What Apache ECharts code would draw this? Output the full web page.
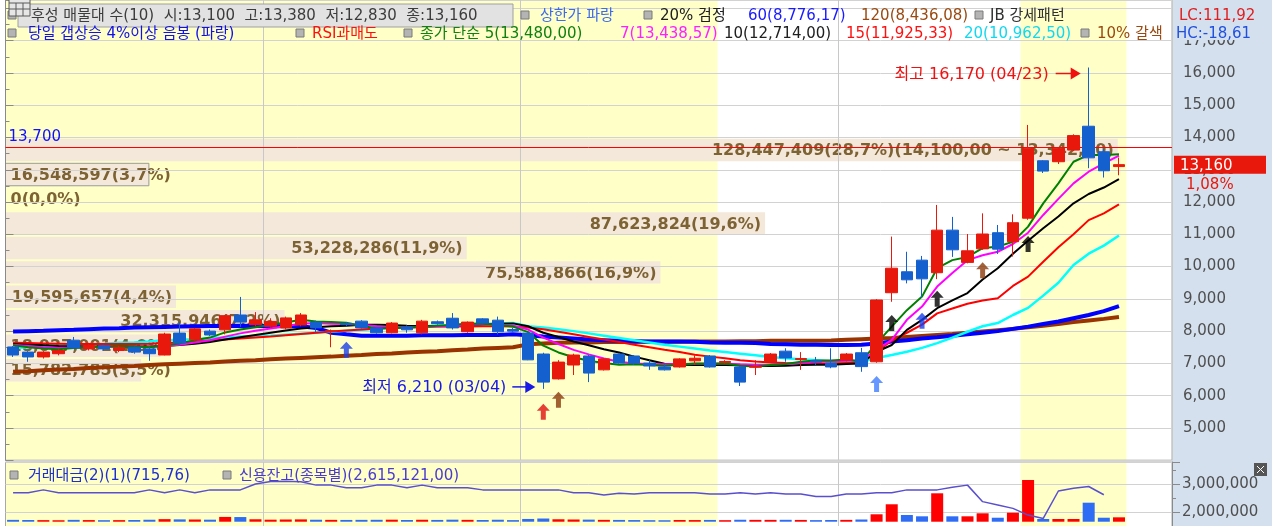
<!DOCTYPE html>
<html>
<head>
<meta charset="utf-8">
<script src="https://cdn.jsdelivr.net/npm/echarts@6/dist/echarts.min.js"></script>
<style>
html, body { margin: 0; padding: 0; background: #fff; }
#main { width: 1272px; height: 526px; }
</style>
</head>
<body>
<div id="main"></div>
<script>
// daily candles
var opens = [
  7510, 7350, 7200, 7300, 7720, 7450, 7550, 7400, 7500, 7450,
  7260, 7940, 7730, 8000, 8040, 8500, 8200, 8150, 8100, 8190,
  8280, 7990, 8240, 8310, 8100, 7950, 8130, 7950, 8290, 8400,
  7980, 8380, 8340, 8050, 7940, 7290, 6520, 6950, 7230, 6800,
  7290, 7230, 7010, 6890, 6890, 7080, 7230, 7030, 6890, 6880,
  7040, 7380, 7120, 7080, 7010, 7090, 7330, 7050, 9190, 9840,
  10200, 9810, 11130, 10130, 10550, 11050, 10770, 11500, 13280, 13250,
  13610, 14350, 13560, 13100
];
var closes = [
  7260, 7200, 7350, 7400, 7480, 7550, 7450, 7500, 7350, 7300,
  7910, 7630, 8070, 7880, 8480, 8280, 8350, 8300, 8410, 8500,
  8100, 8010, 8200, 8100, 7950, 8250, 8040, 8310, 8230, 8100,
  8280, 8250, 7980, 8000, 7110, 6420, 7040, 7260, 6700, 7140,
  7010, 7010, 6920, 6800, 7140, 7160, 6890, 7060, 6420, 6900,
  7290, 7170, 7150, 7040, 6890, 7290, 6900, 8965, 9950, 9590,
  9620, 11130, 10520, 10490, 11010, 10540, 11360, 13670, 12960, 13670,
  14060, 13370, 12970, 13160
];
var lows = [
  7200, 7050, 7150, 7250, 7450, 7400, 7400, 7350, 7300, 7080,
  7250, 7550, 7700, 7850, 7900, 8130, 8150, 8100, 8050, 8150,
  7960, 7500, 8150, 8080, 7920, 7930, 7950, 7900, 8200, 8050,
  7950, 8230, 7900, 7960, 7100, 6210, 6500, 6640, 6420, 6780,
  6990, 6950, 6800, 6780, 6870, 6950, 6870, 6990, 6300, 6640,
  7020, 7050, 6800, 6950, 6850, 7060, 6740, 7020, 8910, 9480,
  9030, 9610, 10300, 10100, 10520, 10390, 10310, 11450, 12900, 13180,
  13580, 13050, 12760, 12830
];
var highs = [
  7540, 7380, 7380, 7450, 7820, 7600, 7580, 7550, 7520, 7500,
  7950, 8290, 8100, 8050, 8500, 9060, 8590, 8400, 8450, 8560,
  8320, 8050, 8280, 8340, 8130, 8280, 8180, 8350, 8330, 8560,
  8300, 8400, 8450, 8100, 7970, 7330, 7100, 7300, 7260, 7160,
  7310, 7260, 7100, 6990, 7160, 7250, 7260, 7100, 6920, 7100,
  7320, 7470, 7350, 7200, 7470, 7320, 7480, 8990, 10930, 10460,
  10330, 11910, 11540, 11010, 11650, 11290, 11620, 14390, 13300, 13700,
  14100, 16170, 13650, 13380
];

// moving averages as drawn
var ma5 = [
  7560, 7500, 7460, 7440, 7480, 7500, 7520, 7540, 7530, 7500,
  7560, 7620, 7720, 7800, 7960, 8050, 8120, 8200, 8270, 8350,
  8300, 8280, 8260, 8160, 8090, 8100, 8110, 8130, 8170, 8190,
  8240, 8230, 8190, 8140, 7970, 7550, 7340, 7190, 7080, 7010,
  6960, 6970, 6950, 6930, 6960, 7000, 6990, 7000, 6930, 6900,
  6950, 6980, 7050, 7090, 7090, 7120, 7060, 7620, 8140, 8650,
  9070, 9950, 10200, 10300, 10570, 10620, 10770, 11240, 11960, 12580,
  13250, 13460, 13460, 13480
];
var ma7 = [
  7580, 7540, 7500, 7480, 7490, 7500, 7510, 7520, 7520, 7510,
  7540, 7580, 7650, 7720, 7830, 7930, 8010, 8080, 8160, 8230,
  8250, 8230, 8220, 8200, 8150, 8120, 8110, 8130, 8140, 8150,
  8190, 8220, 8200, 8170, 8050, 7800, 7600, 7420, 7280, 7150,
  7050, 7000, 6980, 6970, 6980, 6990, 7000, 7000, 6970, 6950,
  6960, 6980, 7010, 7040, 7070, 7080, 7090, 7420, 7730, 8350,
  8760, 9380, 9800, 10200, 10350, 10460, 10700, 11050, 11600, 12100,
  12580, 12940, 13200, 13438.57
];
var ma10 = [
  7600, 7580, 7560, 7540, 7530, 7520, 7520, 7520, 7520, 7520,
  7540, 7570, 7610, 7660, 7740, 7810, 7880, 7950, 8020, 8080,
  8120, 8150, 8170, 8200, 8200, 8190, 8170, 8160, 8160, 8170,
  8190, 8210, 8230, 8240, 8150, 7950, 7820, 7680, 7560, 7440,
  7340, 7210, 7100, 6990, 6960, 6950, 6950, 6950, 6940, 6920,
  6920, 6930, 6950, 6960, 6960, 6980, 7000, 7360, 7570, 8040,
  8350, 8710, 8950, 9180, 9600, 9950, 10400, 10800, 11190, 11550,
  11960, 12250, 12450, 12714
];
var ma15 = [
  7640, 7630, 7620, 7610, 7600, 7600, 7600, 7600, 7600, 7610,
  7630, 7650, 7680, 7710, 7740, 7770, 7800, 7830, 7870, 7910,
  7950, 7990, 8020, 8050, 8080, 8100, 8120, 8130, 8140, 8140,
  8140, 8150, 8150, 8140, 8110, 8060, 7980, 7900, 7820, 7740,
  7660, 7580, 7500, 7420, 7350, 7270, 7210, 7160, 7100, 7060,
  7030, 7010, 7000, 7000, 7000, 7010, 7020, 7365, 7700, 7950,
  8200, 8550, 8700, 8850, 8950, 9020, 9400, 9690, 10150, 10600,
  11000, 11440, 11650, 11925.33
];
var ma20 = [
  7480, 7500, 7530, 7550, 7560, 7590, 7610, 7640, 7650, 7680,
  7720, 7730, 7750, 7790, 7800, 7830, 7850, 7860, 7890, 7920,
  7950, 7980, 8010, 8040, 8070, 8100, 8130, 8150, 8170, 8190,
  8200, 8220, 8240, 8250, 8150, 8110, 8060, 8000, 7930, 7860,
  7790, 7720, 7650, 7580, 7520, 7460, 7400, 7350, 7300, 7250,
  7200, 7160, 7130, 7100, 7070, 7050, 7040, 7170, 7260, 7360,
  7480, 7630, 7800, 7980, 8150, 8250, 8500, 8720, 9100, 9500,
  10050, 10400, 10650, 10962.5
];
var ma60 = [
  7990, 8000, 8010, 8030, 8040, 8060, 8080, 8090, 8110, 8120,
  8130, 8140, 8150, 8160, 8160, 8170, 8160, 8160, 8150, 8150,
  8100, 7950, 7900, 7860, 7860, 7860, 7860, 7870, 7870, 7870,
  7880, 7880, 7880, 7900, 7870, 7830, 7800, 7770, 7740, 7720,
  7700, 7690, 7680, 7680, 7680, 7670, 7650, 7640, 7640, 7630,
  7600, 7590, 7580, 7580, 7570, 7570, 7580, 7620, 7680, 7720,
  7770, 7810, 7860, 7900, 7950, 8000, 8070, 8140, 8220, 8300,
  8400, 8500, 8620, 8776.17
];
var ma120 = [
  6740, 6760, 6790, 6810, 6830, 6860, 6880, 6900, 6920, 6950,
  6970, 6990, 7010, 7030, 7060, 7080, 7100, 7130, 7150, 7170,
  7190, 7210, 7240, 7260, 7290, 7310, 7340, 7360, 7380, 7410,
  7430, 7460, 7480, 7500, 7590, 7620, 7640, 7650, 7650, 7660,
  7660, 7660, 7670, 7670, 7670, 7680, 7680, 7680, 7690, 7690,
  7700, 7700, 7700, 7700, 7710, 7730, 7750, 7770, 7790, 7820,
  7850, 7880, 7910, 7950, 7990, 8030, 8070, 8120, 8170, 8220,
  8280, 8330, 8380, 8436.08
];

// lower panel: trade value bars and credit balance line
var tradeValue = [
  300, 280, 260, 240, 300, 270, 250, 260, 280, 320,
  420, 380, 360, 330, 780, 760, 400, 330, 360, 380,
  320, 300, 290, 300, 310, 330, 280, 320, 290, 330,
  300, 280, 320, 260, 450, 520, 400, 360, 340, 300,
  290, 270, 250, 240, 280, 270, 290, 250, 320, 300,
  300, 310, 290, 260, 280, 300, 360, 1210, 2840, 1090,
  880, 4630, 880, 880, 1370, 650, 1470, 6800, 440, 440,
  440, 3100, 650, 716
];
var creditBalance = [
  2690000, 2690000, 2790000, 2690000, 2690000, 2690000, 2690000, 2690000, 2690000, 2790000,
  2690000, 2790000, 2690000, 2790000, 2790000, 2790000, 3000000, 3090000, 3100000, 3080000,
  2960000, 2960000, 2870000, 2870000, 2960000, 2960000, 2870000, 2960000, 2870000, 2870000,
  2870000, 2790000, 2790000, 2790000, 2790000, 2790000, 2790000, 2690000, 2690000, 2610000,
  2670000, 2640000, 2690000, 2690000, 2690000, 2690000, 2640000, 2640000, 2690000, 2640000,
  2690000, 2640000, 2640000, 2550000, 2550000, 2640000, 2640000, 2690000, 2690000, 2790000,
  2790000, 2790000, 2880000, 2960000, 2370000, 2250000, 2130000, 1890000, 1770000, 2750000,
  2850000, 2910000, 2615121
];

// price-volume profile (매물대)
var bandVolumes = [128447409, 16548597, 0, 87623824, 53228286, 75588866, 19595657, 32315946, 18027001, 15782785];
var bandShares = [28.7, 3.7, 0.0, 19.6, 11.9, 16.9, 4.4, 7.2, 4.0, 3.5];
var bandTop = 13990, bandStep = 758;

// signal arrows
var signalIdx = [22, 35, 36, 57, 58, 60, 61, 64, 67];
var signalPrice = [7420, 5500, 5870, 6360, 8250, 8320, 9000, 9890, 10700];
var signalKind = ['blue', 'red', 'brown', 'sky', 'black', 'blue', 'black', 'brown', 'black'];

var shadeRanges = [[0, 46], [67, 73]];
var monthLines = [17, 34, 55];
var refLine = 13700;
var priceTicks = [5000, 6000, 7000, 8000, 9000, 10000, 11000, 12000, 13000, 14000, 15000, 16000, 17000];

var FONT = '"DejaVu Sans", "Noto Sans CJK KR", sans-serif';
var N = opens.length;
var slots = [];
for (var i = 0; i < N + 3; i++) slots.push(String(i));

function fmt(v) { return Math.round(v).toLocaleString('en-US'); }

var chart = echarts.init(document.getElementById('main'));

var measure = document.createElement('canvas').getContext('2d');
measure.font = 'bold 16px ' + FONT;
var lastClose = closes[N - 1];
var bandLabels = bandVolumes.map(function (v, k) {
  var s = fmt(v) + '(' + bandShares[k].toFixed(1).replace('.', ',') + '%)';
  if (k === 0) s += '(14,100,00 ~ 13,342,00)';
  return s;
});

function shadeItem(params, api) {
  var a = api.coord([api.value(0), 0]);
  var b = api.coord([api.value(1), 0]);
  var bw = api.size([1, 0])[0];
  var cs = params.coordSys;
  return {
    type: 'rect',
    shape: { x: a[0] - bw / 2, y: cs.y, width: b[0] - a[0] + bw, height: cs.height },
    style: { fill: '#ffffc8' }
  };
}

function bandItem(params, api) {
  var k = api.value(0);
  var p0 = api.coord([0, api.value(1)]);
  var p1 = api.coord([api.value(3), api.value(2)]);
  var y0 = p0[1] + 1, h = p1[1] - p0[1] - 2;
  var w = p1[0] - p0[0];
  var label = bandLabels[k];
  var tw = measure.measureText(label).width;
  var right = tw + 8 < w;
  var children = [];
  var hi = api.value(1), lo = api.value(2);
  var current = lastClose <= hi && lastClose > lo;
  if (w > 0) {
    children.push({
      type: 'rect',
      shape: { x: p0[0], y: y0, width: w, height: h },
      style: { fill: '#f4e8da', stroke: current ? '#9a9a9a' : null, lineWidth: 1 }
    });
  }
  children.push({
    type: 'text',
    style: {
      text: label,
      x: right ? p1[0] - 4 : p0[0] + 5,
      y: y0 + h / 2 + 1,
      align: right ? 'right' : 'left',
      verticalAlign: 'middle',
      fill: '#7d6234',
      font: 'bold 16px ' + FONT
    }
  });
  return { type: 'group', children: children };
}

var maDefs = [
  { data: ma120, color: '#993300', width: 4 },
  { data: ma60, color: '#0000ff', width: 4 },
  { data: ma20, color: '#00ffff', width: 2.5 },
  { data: ma15, color: '#ff0000', width: 2 },
  { data: ma10, color: '#000000', width: 2 },
  { data: ma7, color: '#ff00ff', width: 2 },
  { data: ma5, color: '#008000', width: 2 }
];
var signalColors = { blue: '#1a3fe8', red: '#e01010', brown: '#8b3a0a', sky: '#3f7dff', black: '#000000' };
var arrowPath = 'path://M6.5,0 L13,7 L9,7 L9,16 L4,16 L4,7 L0,7 Z';

var series = [
  { type: 'custom', xAxisIndex: 0, yAxisIndex: 0, z: -3, silent: true, renderItem: shadeItem, data: shadeRanges },
  {
    type: 'custom', xAxisIndex: 1, yAxisIndex: 0, z: -2, silent: true, renderItem: bandItem,
    data: bandShares.map(function (s, k) { return [k, bandTop - k * bandStep, bandTop - (k + 1) * bandStep, s]; })
  }
];
maDefs.forEach(function (m) {
  series.push({
    type: 'line', xAxisIndex: 0, yAxisIndex: 0, data: m.data, showSymbol: false, silent: true, z: 3,
    lineStyle: { color: m.color, width: m.width }
  });
});
series.push({
  type: 'candlestick', xAxisIndex: 0, yAxisIndex: 0, barWidth: 12, z: 5,
  data: opens.map(function (o, i) { return [o, closes[i], lows[i], highs[i]]; }),
  itemStyle: { color: '#e8180c', color0: '#1560cf', borderColor: '#e8180c', borderColor0: '#1560cf', borderWidth: 1 },
  markLine: {
    silent: true, symbol: 'none', animation: false,
    data: [{ yAxis: refLine }],
    lineStyle: { color: '#ff0000', width: 1, type: 'solid', opacity: 1 },
    label: { position: 'insideStartTop', formatter: fmt(refLine), color: '#1010ff', fontSize: 15, fontFamily: FONT, distance: 3 }
  }
});
series.push({
  type: 'scatter', xAxisIndex: 0, yAxisIndex: 0, symbol: arrowPath, symbolSize: [13, 16], z: 6, silent: true,
  data: signalIdx.map(function (j, k) {
    return { value: [j, signalPrice[k]], itemStyle: { color: signalColors[signalKind[k]] } };
  })
});
series.push({ type: 'custom', xAxisIndex: 2, yAxisIndex: 1, z: -3, silent: true, renderItem: shadeItem, data: shadeRanges });
series.push({
  type: 'bar', xAxisIndex: 2, yAxisIndex: 2, barWidth: 12, silent: true,
  data: tradeValue.map(function (v, i) {
    return { value: v, itemStyle: { color: closes[i] >= opens[i] ? '#ff0000' : '#2f6cf5' } };
  })
});
series.push({
  type: 'line', xAxisIndex: 2, yAxisIndex: 1, data: creditBalance, showSymbol: false, silent: true, z: 4,
  lineStyle: { color: '#5a4fcf', width: 1.5 }
});

var catAxis = function (grid) {
  return {
    type: 'category', gridIndex: grid, data: slots, boundaryGap: true,
    axisLine: { show: false }, axisTick: { show: false }, axisLabel: { show: false },
    splitLine: {
      show: true,
      interval: function (idx) { return monthLines.indexOf(idx) >= 0; },
      lineStyle: { color: '#c8c8c8', width: 1 }
    }
  };
};

chart.setOption({
  animation: false,
  backgroundColor: '#ffffff',
  grid: [
    { left: 5.5, right: 100, top: 0, bottom: 65.8, show: true, borderColor: '#a8a8a8', borderWidth: 1, containLabel: false, outerBoundsMode: 'none' },
    { left: 5.5, right: 100, top: 462, height: 78, show: true, borderColor: '#a8a8a8', borderWidth: 1, containLabel: false, outerBoundsMode: 'none' }
  ],
  xAxis: [
    catAxis(0),
    { type: 'value', gridIndex: 0, min: 0, max: 30.1, show: false },
    catAxis(1)
  ],
  yAxis: [
    {
      type: 'value', gridIndex: 0, position: 'right', min: 4000, max: 18262, interval: 1000,
      axisLine: { show: true, lineStyle: { color: '#8a8a8a' } },
      axisTick: { show: true, length: 8, lineStyle: { color: '#8a8a8a' } },
      minorTick: { show: true, splitNumber: 2, length: 4, lineStyle: { color: '#8a8a8a' } },
      axisLabel: {
        margin: 11, color: '#4f4f4f', fontSize: 15, fontFamily: FONT,
        formatter: function (v) { return priceTicks.indexOf(v) >= 0 ? fmt(v) : ''; }
      },
      splitLine: { show: true, lineStyle: { color: '#d2d2d2' } }
    },
    {
      type: 'value', gridIndex: 1, position: 'right', min: 1000000, max: 3785714, interval: 1000000,
      axisLine: { show: true, lineStyle: { color: '#8a8a8a' } },
      axisTick: { show: true, length: 8, lineStyle: { color: '#8a8a8a' } },
      minorTick: { show: true, splitNumber: 2, length: 4, lineStyle: { color: '#8a8a8a' } },
      axisLabel: {
        margin: 10, color: '#4f4f4f', fontSize: 15, fontFamily: FONT,
        formatter: function (v) { return (v === 2000000 || v === 3000000) ? fmt(v) : ''; }
      },
      splitLine: { show: true, lineStyle: { color: '#d2d2d2' } }
    },
    { type: 'value', gridIndex: 1, min: -2980, max: 9731, show: false }
  ],
  series: series
});

// decorations positioned through the chart's own scales
function px(j, v) { return chart.convertToPixel({ xAxisIndex: 0, yAxisIndex: 0 }, [j, v]); }
function txt(x, y, s, color, size, align) {
  return { type: 'text', z: 100, x: x, y: y, style: { text: s, fill: color, font: (size || 15) + 'px ' + FONT, align: align || 'left', verticalAlign: 'middle' } };
}
function sq(x, y) {
  return { type: 'rect', z: 100, shape: { x: x, y: y - 4, width: 8, height: 8 }, style: { fill: '#b4b4b4', stroke: '#7a7a7a', lineWidth: 1 } };
}
function arrowRight(tipX, y, len, color) {
  return [
    { type: 'line', z: 100, shape: { x1: tipX - len, y1: y, x2: tipX - 8, y2: y }, style: { stroke: color, lineWidth: 1.5 } },
    { type: 'polygon', z: 100, shape: { points: [[tipX, y], [tipX - 10, y - 6], [tipX - 10, y + 6]] }, style: { fill: color } }
  ];
}

var g = [];
g.push({ type: 'rect', z: -10, shape: { x: 1172, y: 0, width: 100, height: 526 }, style: { fill: '#d4e0ee' } });
// top-left icon
g.push({ type: 'rect', z: 101, shape: { x: 9, y: -1, width: 21, height: 17 }, style: { fill: '#e6e6e6', stroke: '#5a5a5a', lineWidth: 1 } });
g.push({ type: 'line', z: 101, shape: { x1: 16, y1: 3, x2: 16, y2: 16 }, style: { stroke: '#5a5a5a' } });
g.push({ type: 'line', z: 101, shape: { x1: 23, y1: 3, x2: 23, y2: 16 }, style: { stroke: '#5a5a5a' } });
g.push({ type: 'line', z: 101, shape: { x1: 9, y1: 9, x2: 30, y2: 9 }, style: { stroke: '#5a5a5a' } });
g.push({ type: 'line', z: 101, shape: { x1: 9, y1: 3, x2: 30, y2: 3 }, style: { stroke: '#5a5a5a' } });

// legend row 1
g.push(sq(8, 15));
g.push({ type: 'rect', z: 99, shape: { x: 18, y: 4, width: 495, height: 23 }, style: { fill: '#e2e2e2', stroke: '#a0a0a0', lineWidth: 1 } });
g.push(txt(31, 16, '후성 매물대 수(10)  시:13,100  고:13,380  저:12,830  종:13,160', '#3c3c3c'));
g.push(sq(521, 15)); g.push(txt(540, 16, '상한가 파랑', '#3d6bef'));
g.push(sq(644, 15)); g.push(txt(660, 16, '20% 검정', '#202020'));
g.push(txt(748, 16, '60(8,776,17)', '#1a1aff'));
g.push(txt(861, 16, '120(8,436,08)', '#9a4a10'));
g.push(sq(975, 15)); g.push(txt(990, 16, 'JB 강세패턴', '#303030'));
g.push(txt(1179, 16, 'LC:111,92', '#e02020'));
// legend row 2
g.push(sq(8, 33)); g.push(txt(28, 34, '당일 갭상승 4%이상 음봉 (파랑)', '#1010f0'));
g.push(sq(296, 33)); g.push(txt(312, 34, 'RSI과매도', '#ff1010'));
g.push(sq(404, 33)); g.push(txt(420, 34, '종가 단순 5(13,480,00)', '#108010'));
g.push(txt(620, 34, '7(13,438,57)', '#ff20ff'));
g.push(txt(724, 34, '10(12,714,00)', '#202020'));
g.push(txt(846, 34, '15(11,925,33)', '#ff1010'));
g.push(txt(964, 34, '20(10,962,50)', '#10d8f0'));
g.push(sq(1081, 33)); g.push(txt(1097, 34, '10% 갈색', '#9a4a10'));
g.push({ type: 'rect', z: 99, shape: { x: 1174, y: 24, width: 97, height: 16 }, style: { fill: '#d4e0ee' } });
g.push(txt(1176, 34, 'HC:-18,61', '#2050e0'));

// lower panel legend and icon
g.push(sq(10, 475)); g.push(txt(28, 476, '거래대금(2)(1)(715,76)', '#1d2fd0'));
g.push(sq(223, 475)); g.push(txt(239, 476, '신용잔고(종목별)(2,615,121,00)', '#4a3ccf'));
g.push({ type: 'rect', z: 100, shape: { x: 1254, y: 463, width: 13, height: 13 }, style: { fill: '#555' } });
g.push({ type: 'line', z: 101, shape: { x1: 1257, y1: 466, x2: 1264, y2: 473 }, style: { stroke: '#fff' } });
g.push({ type: 'line', z: 101, shape: { x1: 1264, y1: 466, x2: 1257, y2: 473 }, style: { stroke: '#fff' } });

// current price tag
var pc = px(N - 1, lastClose);
g.push({ type: 'rect', z: 100, shape: { x: 1174, y: pc[1] - 9, width: 92, height: 18 }, style: { fill: '#e8180c' } });
g.push(txt(1180, pc[1] + 1, fmt(lastClose), '#ffffff'));
g.push(txt(1186, pc[1] + 20, '1,08%', '#e8180c'));

// high / low notes
var hiIdx = highs.indexOf(Math.max.apply(null, highs));
var loIdx = lows.indexOf(Math.min.apply(null, lows));
var ph = px(hiIdx, highs[hiIdx]);
g.push(txt(ph[0] - 40, ph[1] + 7, '최고 ' + fmt(highs[hiIdx]) + ' (04/23)', '#f01010', 16, 'right'));
g = g.concat(arrowRight(ph[0] - 8, ph[1] + 6, 25, '#f01010'));
var pl = px(loIdx, lows[loIdx]);
g.push(txt(pl[0] - 37, pl[1] - 1, '최저 ' + fmt(lows[loIdx]) + ' (03/04)', '#1a1ae8', 16, 'right'));
g = g.concat(arrowRight(pl[0] - 8, pl[1] - 2, 23, '#1a1ae8'));

chart.setOption({ graphic: g });
</script>
</body>
</html>
